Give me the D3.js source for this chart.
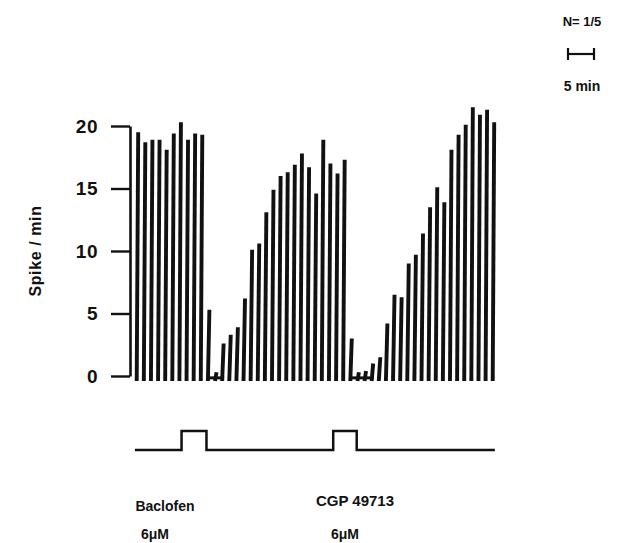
<!DOCTYPE html>
<html>
<head>
<meta charset="utf-8">
<script src="https://cdn.jsdelivr.net/npm/d3@7"></script>
<style>
  body { margin: 0; background: #fff; }
  text { font-family: "Liberation Sans", Arial, sans-serif; font-weight: bold; fill: #111; }
</style>
</head>
<body>
<div class="canvas"></div>
<script>
// spikes per minute, one bin per pen stroke
const counts = [19.5, 18.7, 18.9, 18.9, 18.1, 19.4, 20.3, 18.9, 19.4, 19.3,
  5.3, 0.3, 2.6, 3.3, 3.9, 6.2, 10.1, 10.6, 13.1, 14.9,
  16.0, 16.3, 16.9, 17.8, 16.7, 14.6, 18.9, 17.0, 16.2, 17.3,
  3.0, 0.3, 0.4, 1.0, 1.5, 4.2, 6.5, 6.3, 9.0, 9.7,
  11.4, 13.5, 15.1, 13.9, 18.1, 19.3, 20.1, 21.5, 20.9, 21.3, 20.3];

// silent stretches (bins) where the pen sits on the baseline
const quietFrom = [10, 30];
const quietTo = [12, 33];

const yTicks = [0, 5, 10, 15, 20];

// drug applications (bins)
const drugNames = ["Baclofen", "CGP 49713"];
const drugDose = ["6\u03BCM", "6\u03BCM"];
const drugOn = [6.3, 27.6];
const drugOff = [9.8, 30.9];
const protocolSpan = [-0.25, 50.3];

const scaleBarLabel = "5 min";
const nLabel = "N= 1/5";

const dims = { width: 624, height: 543 };

const svg = d3
  .select(".canvas")
  .append("svg")
  .attr("width", dims.width)
  .attr("height", dims.height)
  .style("display", "block");

svg.append("rect").attr("width", dims.width).attr("height", dims.height).attr("fill", "#fff");

const x = d3.scaleLinear().domain([0, counts.length - 1]).range([136.7, 492.7]);
const y = d3.scaleLinear().domain([0, 20]).range([376, 126]);

// y axis
const yAxis = d3
  .axisLeft(y)
  .tickValues(yTicks)
  .tickSize(19)
  .tickSizeOuter(0)
  .tickPadding(13);

const axisG = svg
  .append("g")
  .attr("transform", "translate(130,0)")
  .call(yAxis);

axisG.select(".domain").attr("stroke", "#111").attr("stroke-width", 2.6);
axisG.selectAll(".tick line").attr("stroke", "#111").attr("stroke-width", 2.4);
axisG
  .selectAll(".tick text")
  .attr("fill", "#111")
  .style("font-size", "19px")
  .style("letter-spacing", "0.5px")
  .style("font-family", '"Liberation Sans", Arial, sans-serif')
  .style("font-weight", "bold");

svg
  .append("text")
  .attr("transform", `translate(41,${y(10)}) rotate(-90)`)
  .attr("text-anchor", "middle")
  .style("font-size", "16px")
  .style("letter-spacing", "0.6px")
  .text("Spike / min");

// baseline in silent stretches
svg
  .append("g")
  .selectAll("line")
  .data(quietFrom)
  .join("line")
  .attr("x1", (d) => x(d))
  .attr("x2", (d, i) => x(quietTo[i]) + 2)
  .attr("y1", y(-0.15))
  .attr("y2", y(-0.15))
  .attr("stroke", "#111")
  .attr("stroke-width", 3);

// spikes (slightly slanted pen strokes)
svg
  .append("g")
  .selectAll("path")
  .data(counts)
  .join("path")
  .attr("d", (d, i) => `M${x(i)},${y(-0.4)}L${x(i) + 1.5},${y(d)}`)
  .attr("stroke", "#111")
  .attr("stroke-width", 3.9)
  .attr("fill", "none");

// drug protocol trace
const pulseY = d3.scaleLinear().domain([0, 1]).range([450, 431]);
const protocolPts = [[protocolSpan[0], 0]];
drugOn.forEach((on, i) => {
  protocolPts.push([on, 0], [on, 1], [drugOff[i], 1], [drugOff[i], 0]);
});
protocolPts.push([protocolSpan[1], 0]);

svg
  .append("path")
  .attr("d", d3.line().x((d) => x(d[0])).y((d) => pulseY(d[1]))(protocolPts))
  .attr("fill", "none")
  .attr("stroke", "#111")
  .attr("stroke-width", 2.5);

// drug labels
const labelX = [165, 355];
const labelY = [511, 506];
const doseX = [155, 345];

svg
  .append("g")
  .selectAll("text")
  .data(drugNames)
  .join("text")
  .attr("x", (d, i) => labelX[i])
  .attr("y", (d, i) => labelY[i])
  .attr("text-anchor", "middle")
  .style("font-size", (d, i) => (i === 0 ? "14px" : "15px"))
  .text((d) => d);

svg
  .append("g")
  .selectAll("text")
  .data(drugDose)
  .join("text")
  .attr("x", (d, i) => doseX[i])
  .attr("y", 539)
  .attr("text-anchor", "middle")
  .style("font-size", "14px")
  .text((d) => d);

// N label and time scale bar
const barCx = 581;
const barW = 26;

svg
  .append("text")
  .attr("x", barCx + 1)
  .attr("y", 26)
  .attr("text-anchor", "middle")
  .style("font-size", "13px")
  .text(nLabel);

const bar = svg.append("g").attr("stroke", "#111").attr("stroke-width", 2.2);
bar
  .append("line")
  .attr("x1", barCx - barW / 2)
  .attr("x2", barCx + barW / 2)
  .attr("y1", 54)
  .attr("y2", 54);
[barCx - barW / 2, barCx + barW / 2].forEach((bx) => {
  bar.append("line").attr("x1", bx).attr("x2", bx).attr("y1", 48).attr("y2", 60);
});

svg
  .append("text")
  .attr("x", barCx + 1)
  .attr("y", 91)
  .attr("text-anchor", "middle")
  .style("font-size", "14px")
  .text(scaleBarLabel);
</script>
</body>
</html>
